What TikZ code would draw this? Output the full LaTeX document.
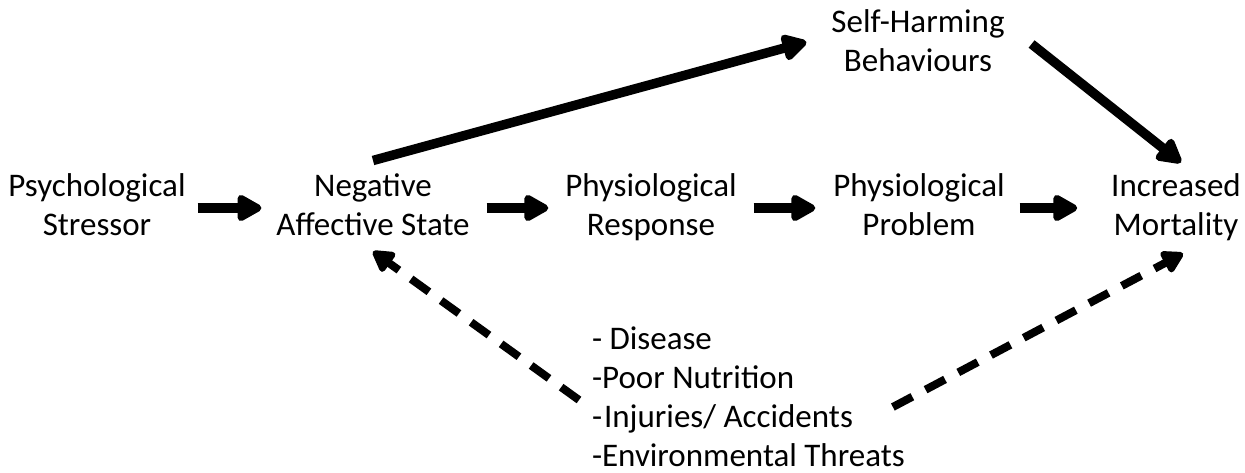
\documentclass[tikz,border=0pt]{standalone}
\usepackage{fontspec}
\setmainfont{Carlito}
\usetikzlibrary{arrows.meta}
\begin{document}
\begin{tikzpicture}[x=1pt,y=-1pt,
  lbl/.style={inner sep=0pt, outer sep=0pt, align=center, font=\fontsize{33}{39.5}\selectfont},
  lst/.style={inner sep=0pt, outer sep=0pt, align=left, font=\fontsize{33}{39}\selectfont},
  solidarr/.style={line width=9.5pt, -{Triangle[length=28pt,width=29pt,round]}},
  dasharr/.style={line width=8pt, dash pattern=on 22pt off 15pt, -{Triangle[length=24pt,width=26pt,round]}}]
\fill[white] (0,0) rectangle (1245,473);
\useasboundingbox (0,0) rectangle (1245,473);

\node[lbl] (stress) at (97,208)  {\strut Psychological\\\strut Stressor};
\node[lbl] (neg)    at (373,208) {\strut Negative\\\strut Affective State};
\node[lbl] (resp)   at (651,208) {\strut Physiological\\\strut Response};
\node[lbl] (prob)   at (919,208) {\strut Physiological\\\strut Problem};
\node[lbl] (mort)   at (1176,208) {\strut Increased\\\strut Mortality};
\node[lbl] (self)   at (918,44)  {\strut Self-Harming\\\strut Behaviours};
\node[lst, anchor=west] (list) at (592,400) {\strut - Disease\\\strut -Poor Nutrition\\\strut -\hspace{2pt}Injuries/ Accidents\\\strut -Environmental Threats};

\draw[solidarr] ([xshift=12pt]stress.east) -- ([xshift=-15pt]neg.west);
\draw[solidarr] ([xshift=17pt]neg.east) -- ([xshift=-17pt]resp.west);
\draw[solidarr] ([xshift=17pt]resp.east) -- ([xshift=-18pt]prob.west);
\draw[solidarr] ([xshift=15pt]prob.east) -- ([xshift=-34pt]mort.west);
\draw[solidarr] ([yshift=8pt]neg.north) -- ([xshift=-25pt,yshift=2pt]self.west);
\draw[solidarr] ([xshift=27pt]self.east) -- ([xshift=5pt,yshift=6pt]mort.north);

\draw[dasharr] ([xshift=-13pt]list.west) -- ([yshift=-4pt]neg.south);
\draw[dasharr] ([xshift=-12pt,yshift=-7pt]list.east) -- ([xshift=7pt,yshift=-6pt]mort.south);
\end{tikzpicture}
\end{document}
